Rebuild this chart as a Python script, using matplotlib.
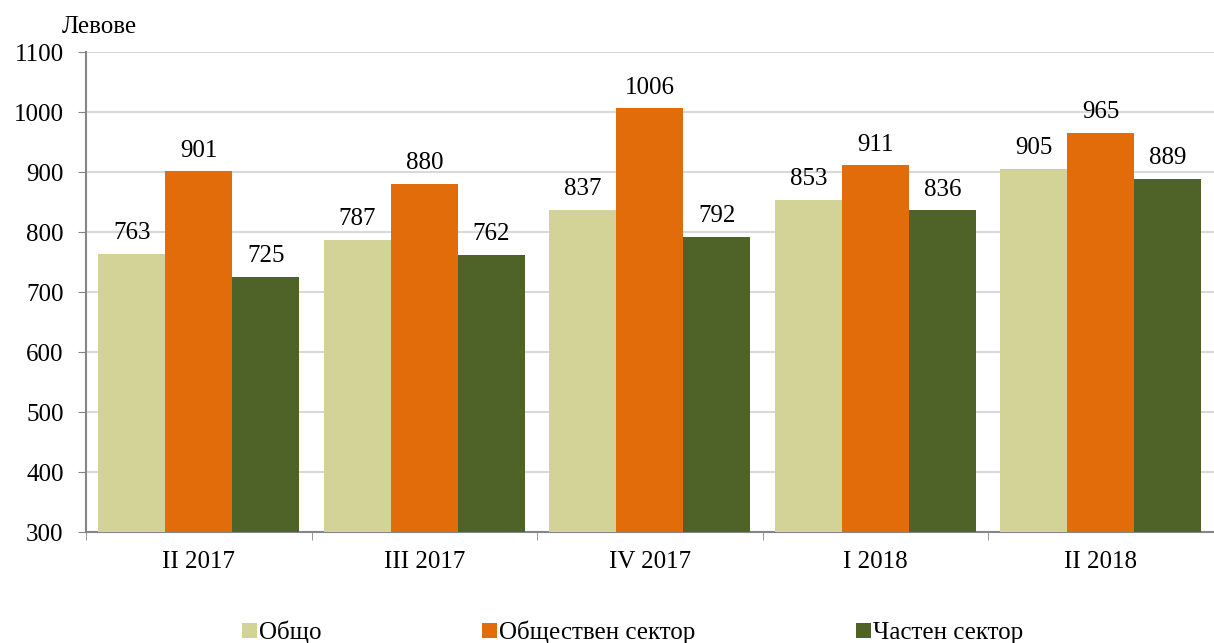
import numpy as np
import matplotlib
matplotlib.use('Agg')
import matplotlib.pyplot as plt

plt.rcParams['font.family'] = ['Liberation Serif', 'DejaVu Serif']

# --- DANE ---
kategorie = ['II 2017', 'III 2017', 'IV 2017', 'I 2018', 'II 2018']
obshto = [763, 787, 837, 853, 905]
obshtestven = [901, 880, 1006, 911, 965]
chasten = [725, 762, 792, 836, 889]
serie = ['Общо', 'Обществен сектор', 'Частен сектор']
kolory = ['#D3D397', '#E36C0A', '#4F6228']

FS = 18

fig = plt.figure(figsize=(12.14, 6.43), dpi=100)
ax = fig.add_axes([0.0708, 0.1726, 0.929, 0.7465])

x = np.arange(len(kategorie))
w = 0.297
for i, (vals, lab, col) in enumerate(zip([obshto, obshtestven, chasten], serie, kolory)):
    ax.bar(x + (i - 1) * w, np.array(vals) - 300, w, bottom=300,
           color=col, label=lab, zorder=3)
    for xi, v in zip(x + (i - 1) * w, vals):
        ax.annotate(str(v), (xi, v), xytext=(0, 7), textcoords='offset points',
                    ha='center', va='bottom', fontsize=FS)

ax.set_xlim(-0.5, len(kategorie) - 0.5)
ax.set_ylim(300, 1100)
ax.set_yticks(range(300, 1101, 100))
ax.tick_params(axis='y', labelsize=FS, length=6, color='#868686', pad=10)

# etykiety w srodku grup, kreski na granicach
ax.set_xticks(x)
ax.set_xticklabels(kategorie, fontsize=FS)
ax.set_xticks(np.arange(-0.5, len(kategorie)), minor=True)
ax.tick_params(axis='x', which='major', length=0, pad=14)
ax.tick_params(axis='x', which='minor', length=6, color='#868686')

ax.grid(axis='y', color='#D9D9D9', linewidth=1.5, zorder=0)
ax.set_axisbelow(True)
for s in ['top', 'right']:
    ax.spines[s].set_visible(False)
for s in ['left', 'bottom']:
    ax.spines[s].set_color('#868686')
    ax.spines[s].set_linewidth(1.5)

fig.text(0.051, 0.958, 'Левове', fontsize=FS, va='center', ha='left')

fig.legend(loc='lower center', bbox_to_anchor=(0.521, -0.037), ncol=3, frameon=False,
           fontsize=FS, handlelength=0.6, handleheight=0.6, handletextpad=0.1,
           columnspacing=6.4)

fig.savefig('out.png', dpi=100)
